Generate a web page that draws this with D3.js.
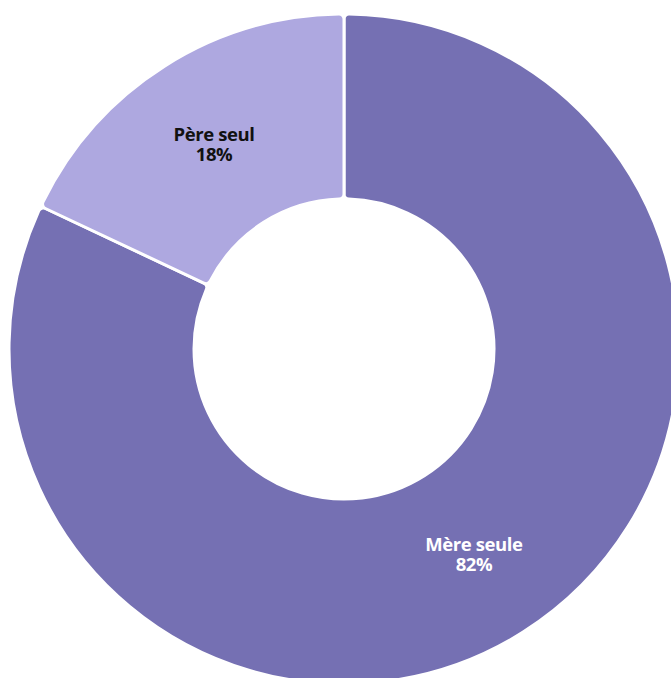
<!DOCTYPE html>
<html><head><meta charset="utf-8">
<script src="https://cdn.jsdelivr.net/npm/d3@7"></script>
<style>html,body{margin:0;padding:0;background:#fff;overflow:hidden}</style>
</head><body>
<svg id="c" width="671" height="678"></svg>
<script>
const categories = ["Mère seule", "Père seul"];
const values = [82, 18];
const labels = ["82%", "18%"];
const colors = ["#7570b3", "#aea8e0"];
const textColors = ["#ffffff", "#111111"];

const svg = d3.select("#c");
const cx = 344, cy = 349, outerR = 335, innerR = 150;
const g = svg.append("g").attr("transform", `translate(${cx},${cy})`);
const pie = d3.pie().sort(null).value(d => d)(values);
const arc = d3.arc().innerRadius(innerR).outerRadius(outerR).cornerRadius(5);
g.selectAll("path").data(pie).join("path")
  .attr("d", arc)
  .attr("fill", (d, i) => colors[i])
  .attr("stroke", "#fff").attr("stroke-width", 3).attr("stroke-linejoin", "round");
const t = g.selectAll("text").data(pie).join("text")
  .attr("transform", d => `translate(${arc.centroid(d)})`)
  .attr("text-anchor", "middle")
  .attr("font-family", "'Open Sans', sans-serif").attr("font-weight", "bold").attr("font-size", 18.5)
  .attr("letter-spacing", "-0.4")
  .attr("fill", (d, i) => textColors[i]);
t.append("tspan").attr("x", 0).attr("dy", "-0.15em").text((d, i) => categories[i]);
t.append("tspan").attr("x", 0).attr("dy", "1.08em").text((d, i) => labels[i]);
</script>
</body></html>
